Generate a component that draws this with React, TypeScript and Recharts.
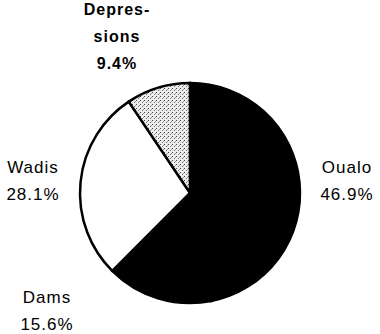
import { PieChart, Pie, Cell } from "recharts";

const categories = ["Oualo", "Dams", "Wadis", "Depressions"];
const shares = [46.9, 15.6, 28.1, 9.4];
const labelLines = [["Oualo"], ["Dams"], ["Wadis"], ["Depres-", "sions"]];

const fills = ["#000000", "#000000", "#ffffff", "url(#stipple)"];
// label anchor points (x centre, y of first line) and weight per slice
const labelPos = [
  { x: 347, y: 167, bold: false },
  { x: 47, y: 297, bold: false },
  { x: 33, y: 167, bold: false },
  { x: 117, y: 9, bold: true },
];

const data = categories.map((name, i) => ({ name, value: shares[i] }));

function renderLabel(props: any) {
  const i = props.index;
  const p = labelPos[i];
  const lines = [...labelLines[i], `${shares[i].toFixed(1)}%`];
  return (
    <text
      key={i}
      x={p.x}
      y={p.y}
      textAnchor="middle"
      dominantBaseline="central"
      fontFamily="'Liberation Sans', Arial, sans-serif"
      fontSize={p.bold ? 16 : 17}
      fontWeight={p.bold ? "bold" : "normal"}
      letterSpacing={1}
      fill="#000"
    >
      {lines.map((l, k) => (
        <tspan key={k} x={p.x} dy={k === 0 ? 0 : 27}>
          {l}
        </tspan>
      ))}
    </text>
  );
}

export default function App() {
  return (
    <div style={{ position: "absolute", left: 0, top: 0, background: "#fff" }}>
      <svg width={0} height={0} style={{ position: "absolute" }}>
        <defs>
          <pattern id="stipple" width={4} height={4} patternUnits="userSpaceOnUse">
            <rect width={4} height={4} fill="#ececec" />
            <rect x={0} y={0} width={1} height={1} fill="#444" />
            <rect x={2} y={2} width={1} height={1} fill="#777" />
            <rect x={3} y={1} width={1} height={1} fill="#999" />
          </pattern>
        </defs>
      </svg>
      <PieChart width={380} height={334} margin={{ top: 0, right: 0, bottom: 0, left: 0 }}>
        <Pie
          data={data}
          dataKey="value"
          nameKey="name"
          cx={190}
          cy={193}
          outerRadius={110}
          startAngle={90}
          endAngle={-270}
          stroke="#000"
          strokeWidth={2.5}
          label={renderLabel}
          labelLine={false}
          isAnimationActive={false}
        >
          {data.map((d, i) => (
            <Cell key={d.name} fill={fills[i]} />
          ))}
        </Pie>
      </PieChart>
    </div>
  );
}
